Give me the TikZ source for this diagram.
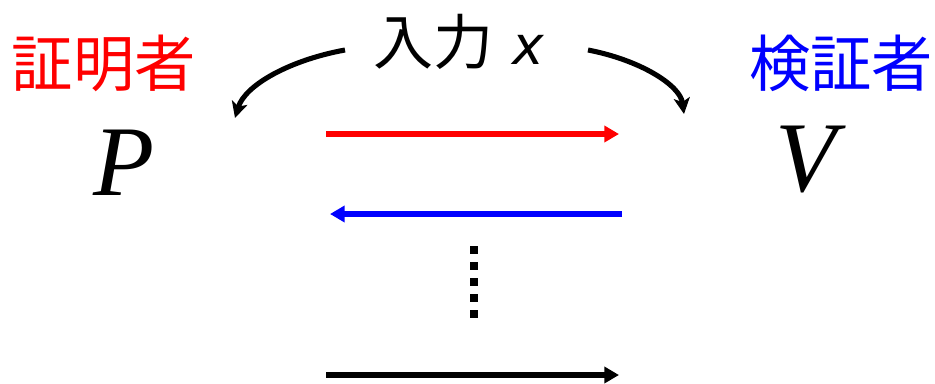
\documentclass[tikz,border=0pt]{standalone}
\usepackage{fontspec}
\setmainfont{Liberation Serif}
\newfontfamily\cjk{Noto Sans CJK JP}
\newfontfamily\dsans{DejaVu Sans}
\usetikzlibrary{arrows.meta}
\definecolor{pred}{RGB}{255,0,0}
\definecolor{vblue}{RGB}{0,0,255}
\tikzset{
  role/.style={font=\cjk\fontsize{46}{46}\selectfont, inner sep=0pt, anchor=center},
  party/.style={font=\fontsize{75}{75}\selectfont\itshape, inner sep=0pt, anchor=center},
  msg/.style={line width=5.2pt, -{Triangle[length=11pt,width=12pt]}},
  curvearrow/.style={line width=3.8pt, -{Stealth[length=12pt,width=12pt,inset=3pt]}},
}
\begin{document}
\begin{tikzpicture}[x=0.75pt,y=-0.75pt]
\useasboundingbox (0,0) rectangle (935,383);
\node[role, text=pred] (prover) at (104,63) {証明者};
\node[role, text=vblue] (verifier) at (841,63) {検証者};
\node[party] (P) at (124,163) {P};
\node[party] (V) at (806,160) {V};
\node[inner sep=0pt] (input) at (459,42) {{\cjk\fontsize{45}{45}\selectfont 入力}\hspace{14pt}{\dsans\itshape\fontsize{40}{40}\selectfont x}};
\coordinate (ls) at (345,50);
\coordinate (lt) at (235,118);
\coordinate (rs) at (588,50);
\coordinate (rt) at (684,114);
\draw[curvearrow] (ls) .. controls (290,60) and (245,85) .. (lt);
\draw[curvearrow] (rs) .. controls (640,60) and (680,85) .. (rt);
\coordinate (a1) at (326,134);
\coordinate (b1) at (619,134);
\coordinate (a2) at (622,214);
\coordinate (b2) at (330,214);
\coordinate (a3) at (326,375);
\coordinate (b3) at (619,375);
\draw[msg, draw=pred, fill=pred] (a1) -- (b1);
\draw[msg, draw=vblue, fill=vblue] (a2) -- (b2);
\draw[msg] (a3) -- (b3);
\foreach \i in {0,...,4}
  \fill (470,246+16*\i) rectangle ++(8,8);
\end{tikzpicture}
\end{document}
